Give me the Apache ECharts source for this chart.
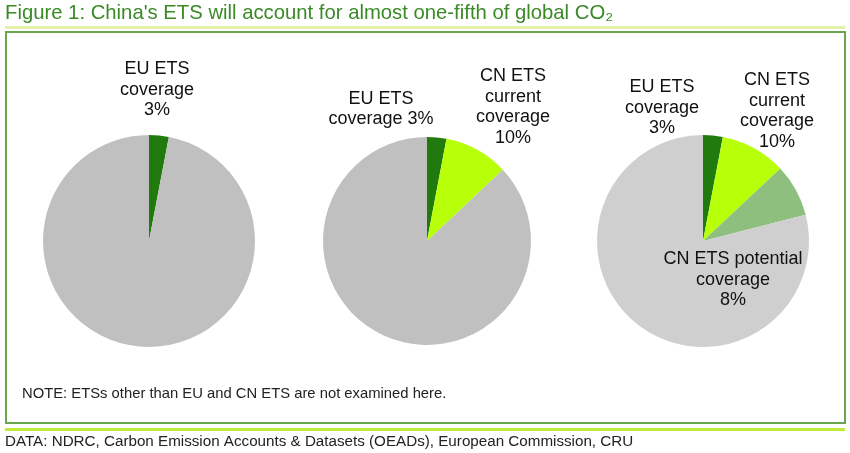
<!DOCTYPE html>
<html><head><meta charset="utf-8">
<script src="https://cdn.jsdelivr.net/npm/echarts@6/dist/echarts.min.js"></script>
<style>html,body{margin:0;padding:0;background:#fff}#c{width:850px;height:453px}</style>
</head><body><div id="c"></div>
<script>
// Data (% of global CO2 emissions)
const categories = ['EU ETS coverage', 'CN ETS current coverage', 'CN ETS potential coverage', 'Other'];
const pie1Values = [3, 97];
const pie2Values = [3, 10, 87];
const pie3Values = [3, 10, 8, 79];
const pie1Cats = [categories[0], categories[3]];
const pie2Cats = [categories[0], categories[1], categories[3]];
const pie3Cats = [categories[0], categories[1], categories[2], categories[3]];

const titleText = "Figure 1: China's ETS will account for almost one-fifth of global CO\u2082";
const noteText = 'NOTE: ETSs other than EU and CN ETS are not examined here.';
const sourceText = 'DATA: NDRC, Carbon Emission Accounts & Datasets (OEADs), European Commission, CRU';

const colorMap = {
  'EU ETS coverage': '#217a0d',
  'CN ETS current coverage': '#b8ff0a',
  'CN ETS potential coverage': '#8fbf7e',
  'Other': '#c0c0c0'
};
const FONT = 'Liberation Sans, Arial, sans-serif';

function fmtLabel(name, value, style) {
  if (name === 'EU ETS coverage') {
    return style === 'twoLine' ? 'EU ETS\ncoverage ' + value + '%' : 'EU ETS\ncoverage\n' + value + '%';
  }
  if (name === 'CN ETS current coverage') return 'CN ETS\ncurrent\ncoverage\n' + value + '%';
  if (name === 'CN ETS potential coverage') return 'CN ETS potential\ncoverage\n' + value + '%';
  return '';
}

function makePie(cats, vals, center, radius, labelPos, euStyle, otherColor) {
  return {
    type: 'pie',
    center: center,
    radius: radius,
    startAngle: 90,
    clockwise: true,
    animation: false,
    silent: true,
    avoidLabelOverlap: false,
    data: cats.map((c, i) => ({
      name: c,
      value: vals[i],
      itemStyle: { color: c === 'Other' ? otherColor : colorMap[c] },
      label: { show: c !== 'Other' }
    })),
    label: {
      position: 'inside',
      formatter: p => fmtLabel(p.name, p.value, euStyle),
      fontFamily: FONT,
      fontSize: 18,
      lineHeight: 20.5,
      color: '#111',
      align: 'center',
      overflow: 'none'
    },
    labelLine: { show: false },
    labelLayout: function (params) {
      const pos = labelPos[params.dataIndex];
      if (!pos) return {};
      return { x: pos[0], y: pos[1], align: 'center', verticalAlign: 'middle' };
    }
  };
}

const chart = echarts.init(document.getElementById('c'), null, { renderer: 'canvas' });
chart.setOption({
  backgroundColor: '#fff',
  animation: false,
  graphic: [
    { type: 'text', left: 5, top: 3, style: { text: titleText, font: '20.3px ' + FONT, fill: '#3a8a26' } },
    { type: 'rect', shape: { x: 5, y: 26, width: 840, height: 3 }, style: { fill: '#e3f2a6' } },
    { type: 'rect', shape: { x: 6, y: 32, width: 839, height: 391 }, style: { fill: 'none', stroke: '#6aa64f', lineWidth: 2 } },
    { type: 'text', left: 22, top: 386, style: { text: noteText, font: '14.8px ' + FONT, fill: '#222' } },
    { type: 'rect', shape: { x: 5, y: 428, width: 840, height: 3 }, style: { fill: '#c0ea3a' } },
    { type: 'text', left: 5, top: 434, style: { text: sourceText, font: '15.2px ' + FONT, fill: '#222' } }
  ],
  series: [
    makePie(pie1Cats, pie1Values, [149, 241], 106, { 0: [157, 90] }, 'threeLine', '#c0c0c0'),
    makePie(pie2Cats, pie2Values, [427, 241], 104, { 0: [381, 109], 1: [513, 107] }, 'twoLine', '#c0c0c0'),
    makePie(pie3Cats, pie3Values, [703, 241], 106, { 0: [662, 108], 1: [777, 111], 2: [733, 280] }, 'threeLine', '#cfcfcf')
  ]
});
</script>
</body></html>
